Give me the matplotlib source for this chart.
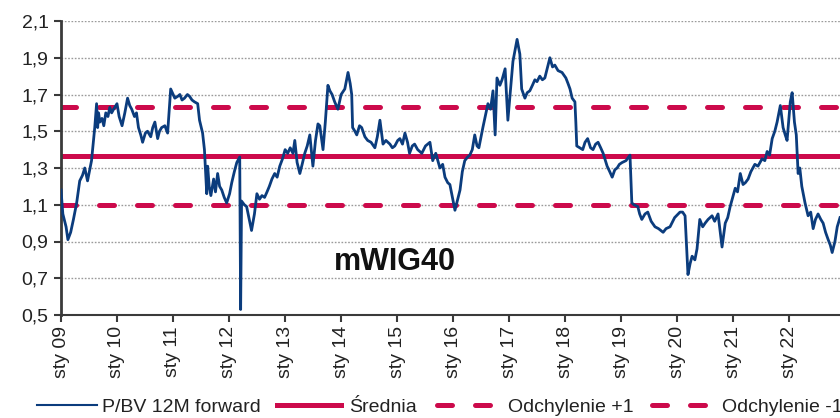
import pandas as pd
import matplotlib
matplotlib.use("Agg")
import matplotlib.pyplot as plt
from matplotlib.lines import Line2D
from matplotlib.ticker import FuncFormatter

plt.rcParams['font.family'] = ['Liberation Sans', 'DejaVu Sans']

# P/BV 12M forward, mWIG40, one line per year
dates = [
    "2009-01-01", "2009-01-13", "2009-02-03", "2009-02-15", "2009-03-05", "2009-03-23", "2009-04-13", "2009-05-03", "2009-05-21", "2009-06-05", "2009-06-23", "2009-07-19", "2009-08-09", "2009-08-21", "2009-08-28", "2009-09-03", "2009-09-11", "2009-09-25", "2009-10-07", "2009-10-20", "2009-11-03", "2009-11-15", "2009-11-27", "2009-12-10",
    "2010-01-01", "2010-01-15", "2010-02-03", "2010-02-21", "2010-03-11", "2010-03-25", "2010-04-07", "2010-04-25", "2010-05-08", "2010-05-21", "2010-06-05", "2010-06-17", "2010-07-05", "2010-07-19", "2010-08-09", "2010-08-22", "2010-09-05", "2010-09-23", "2010-10-05", "2010-10-19", "2010-11-09", "2010-11-27", "2010-12-17",
    "2011-01-13", "2011-02-01", "2011-02-15", "2011-03-01", "2011-03-17", "2011-04-05", "2011-04-19", "2011-05-05", "2011-05-21", "2011-06-11", "2011-06-23", "2011-07-13", "2011-07-25", "2011-08-09", "2011-08-15", "2011-08-25", "2011-09-05", "2011-09-23", "2011-10-05", "2011-10-19", "2011-11-01", "2011-11-15", "2011-12-01", "2011-12-17",
    "2012-01-05", "2012-01-19", "2012-02-05", "2012-02-21", "2012-03-11", "2012-03-17", "2012-03-23", "2012-04-10", "2012-04-25", "2012-05-27", "2012-06-15", "2012-07-01", "2012-07-18", "2012-08-03", "2012-08-20", "2012-09-05", "2012-09-20", "2012-10-07", "2012-10-25", "2012-11-10", "2012-11-27", "2012-12-15",
    "2013-01-01", "2013-01-18", "2013-02-03", "2013-02-21", "2013-03-05", "2013-03-20", "2013-04-07", "2013-04-22", "2013-05-09", "2013-05-25", "2013-06-11", "2013-07-01", "2013-07-18", "2013-08-03", "2013-08-15", "2013-09-05", "2013-09-20", "2013-10-07", "2013-10-20", "2013-11-03", "2013-11-20", "2013-12-11",
    "2014-01-01", "2014-01-25", "2014-02-15", "2014-03-01", "2014-03-11", "2014-03-17", "2014-04-01", "2014-04-13", "2014-05-01", "2014-05-15", "2014-06-05", "2014-06-23", "2014-07-15", "2014-08-09", "2014-08-25", "2014-09-11", "2014-10-01", "2014-10-20", "2014-11-15", "2014-12-01", "2014-12-17",
    "2015-01-05", "2015-01-19", "2015-02-05", "2015-02-21", "2015-03-10", "2015-03-23", "2015-04-10", "2015-04-25", "2015-05-15", "2015-06-11", "2015-07-05", "2015-08-03", "2015-08-21", "2015-09-10", "2015-10-07", "2015-10-25", "2015-11-09", "2015-11-27", "2015-12-11",
    "2016-01-13", "2016-01-28", "2016-02-15", "2016-03-01", "2016-03-17", "2016-04-05", "2016-04-19", "2016-05-05", "2016-05-21", "2016-06-05", "2016-06-17", "2016-07-13", "2016-07-28", "2016-08-15", "2016-09-01", "2016-09-17", "2016-10-01", "2016-10-13", "2016-11-01", "2016-11-15", "2016-12-05", "2016-12-23",
    "2017-01-19", "2017-01-25", "2017-02-21", "2017-03-11", "2017-03-23", "2017-04-13", "2017-04-28", "2017-05-15", "2017-06-01", "2017-06-17", "2017-07-01", "2017-07-19", "2017-08-05", "2017-08-21", "2017-09-23", "2017-10-10", "2017-10-25", "2017-11-15", "2017-12-11",
    "2018-01-05", "2018-01-19", "2018-02-01", "2018-02-15", "2018-03-05", "2018-03-11", "2018-03-17", "2018-04-05", "2018-04-25", "2018-05-10", "2018-05-27", "2018-06-15", "2018-07-01", "2018-07-18", "2018-08-03", "2018-08-20", "2018-09-05", "2018-09-20", "2018-10-01", "2018-10-18", "2018-11-03", "2018-11-20", "2018-12-05", "2018-12-20",
    "2019-01-07", "2019-02-01", "2019-02-27", "2019-03-11", "2019-03-25", "2019-04-19", "2019-05-01", "2019-05-15", "2019-06-05", "2019-06-23", "2019-07-15", "2019-08-09", "2019-09-01", "2019-10-01", "2019-10-20", "2019-11-15", "2019-12-15",
    "2020-01-19", "2020-02-05", "2020-02-21", "2020-03-11", "2020-03-25", "2020-04-07", "2020-04-25", "2020-05-09", "2020-05-27", "2020-06-15", "2020-07-01", "2020-07-20", "2020-08-15", "2020-09-01", "2020-09-23", "2020-10-19", "2020-11-09", "2020-11-25", "2020-12-11",
    "2021-01-13", "2021-01-28", "2021-02-15", "2021-03-05", "2021-03-20", "2021-04-07", "2021-04-25", "2021-05-21", "2021-06-10", "2021-07-07", "2021-07-25", "2021-08-09", "2021-08-25", "2021-09-11", "2021-09-28", "2021-10-13", "2021-11-03", "2021-11-21", "2021-12-05", "2021-12-17",
    "2022-01-07", "2022-01-19", "2022-02-03", "2022-02-15", "2022-02-27", "2022-03-10", "2022-03-23", "2022-04-13", "2022-05-03", "2022-05-20", "2022-06-05", "2022-06-20", "2022-07-07", "2022-07-25", "2022-08-09", "2022-08-25", "2022-09-11", "2022-09-25", "2022-10-07", "2022-10-25", "2022-11-09", "2022-11-27",
]
pbv = [
    1.18, 1.05, 0.98, 0.91, 0.95, 1.02, 1.11, 1.23, 1.26, 1.30, 1.23, 1.34, 1.52, 1.65, 1.52, 1.60, 1.55, 1.57, 1.53, 1.60, 1.58, 1.63, 1.60, 1.62,
    1.65, 1.58, 1.53, 1.60, 1.68, 1.64, 1.62, 1.58, 1.60, 1.52, 1.48, 1.44, 1.49, 1.50, 1.47, 1.52, 1.55, 1.46, 1.50, 1.52, 1.53, 1.49, 1.73,
    1.68, 1.69, 1.70, 1.67, 1.68, 1.70, 1.69, 1.67, 1.66, 1.65, 1.56, 1.49, 1.40, 1.16, 1.31, 1.20, 1.15, 1.24, 1.17, 1.27, 1.20, 1.18, 1.14, 1.11,
    1.16, 1.22, 1.28, 1.33, 1.36, 0.53, 1.12, 1.10, 1.09, 0.96, 1.05, 1.16, 1.13, 1.15, 1.14, 1.17, 1.20, 1.24, 1.27, 1.25, 1.31, 1.35,
    1.40, 1.38, 1.41, 1.38, 1.45, 1.33, 1.27, 1.32, 1.38, 1.42, 1.48, 1.31, 1.45, 1.54, 1.53, 1.40, 1.55, 1.75, 1.72, 1.70, 1.66, 1.62,
    1.70, 1.73, 1.82, 1.76, 1.70, 1.52, 1.50, 1.48, 1.53, 1.52, 1.47, 1.45, 1.44, 1.41, 1.47, 1.56, 1.43, 1.45, 1.43, 1.41, 1.42,
    1.45, 1.46, 1.43, 1.49, 1.44, 1.38, 1.42, 1.43, 1.40, 1.38, 1.42, 1.44, 1.34, 1.38, 1.30, 1.32, 1.25, 1.22, 1.21,
    1.07, 1.12, 1.18, 1.28, 1.34, 1.36, 1.37, 1.40, 1.48, 1.42, 1.41, 1.52, 1.58, 1.65, 1.62, 1.72, 1.48, 1.79, 1.75, 1.78, 1.84, 1.56,
    1.82, 1.88, 2.00, 1.92, 1.73, 1.68, 1.71, 1.72, 1.75, 1.78, 1.77, 1.80, 1.78, 1.79, 1.90, 1.85, 1.86, 1.83, 1.82,
    1.79, 1.76, 1.73, 1.68, 1.66, 1.55, 1.42, 1.41, 1.40, 1.44, 1.46, 1.41, 1.40, 1.43, 1.44, 1.41, 1.38, 1.34, 1.31, 1.28, 1.25, 1.29, 1.30, 1.32,
    1.33, 1.34, 1.37, 1.11, 1.10, 1.09, 1.05, 1.02, 1.05, 1.06, 1.01, 0.98, 0.97, 0.95, 0.97, 0.98, 1.03,
    1.06, 1.06, 1.04, 0.72, 0.78, 0.82, 0.80, 0.86, 1.02, 0.98, 1.00, 1.02, 1.04, 1.01, 1.05, 0.87, 1.00, 1.03, 1.09,
    1.19, 1.17, 1.27, 1.21, 1.22, 1.24, 1.28, 1.32, 1.31, 1.35, 1.34, 1.39, 1.37, 1.46, 1.50, 1.55, 1.64, 1.52, 1.48, 1.45,
    1.66, 1.71, 1.55, 1.48, 1.27, 1.30, 1.20, 1.11, 1.04, 1.06, 0.97, 1.02, 1.05, 1.02, 1.00, 0.95, 0.91, 0.88, 0.84, 0.90, 0.98, 1.03,
]
assert len(dates) == len(pbv)

mean_val = 1.366
std_val = 0.267
y_ticks = [0.5, 0.7, 0.9, 1.1, 1.3, 1.5, 1.7, 1.9, 2.1]
tick_years = list(range(2009, 2023))
tick_labels = ["sty %02d" % (y % 100) for y in tick_years]
legend_labels = ["P/BV 12M forward", "Średnia", "Odchylenie +1", "Odchylenie -1"]

blue = "#0B3C7D"
red = "#CC0A4B"

x = pd.to_datetime(dates)

fig = plt.figure(figsize=(8.4, 4.18), dpi=100)
ax = fig.add_axes([61 / 840, 1 - 315 / 418, 1 - 61 / 840, 294 / 418])

x0 = pd.Timestamp("2009-01-01")
x1 = pd.Timestamp("2022-11-27")
dash = (3.0, 4.6)

ax.plot([x0, x1], [mean_val, mean_val], color=red, lw=3.6, solid_capstyle="butt", zorder=2)
ax.plot([x0, x1], [mean_val + std_val] * 2, color=red, lw=3.6, dashes=dash,
        dash_capstyle="round", zorder=2)
ax.plot([x0, x1], [mean_val - std_val] * 2, color=red, lw=3.6, dashes=dash,
        dash_capstyle="round", zorder=2)
ax.plot(x, pbv, color=blue, lw=2.0, zorder=3)

ax.set_xlim(x0, x1)
ax.set_ylim(0.5, 2.1)
ax.set_yticks(y_ticks)
ax.yaxis.set_major_formatter(FuncFormatter(lambda v, p: f"{v:.1f}".replace(".", ",")))
ax.set_xticks([pd.Timestamp(f"{y}-01-01") for y in tick_years])
ax.set_xticklabels(tick_labels, rotation=90)
ax.grid(axis="y", linestyle=(0, (1.2, 1.2)), color="#9a9a9a", lw=1.0, zorder=0)

for s in ["top", "right"]:
    ax.spines[s].set_visible(False)
ax.spines["left"].set_color("#3a3a3a")
ax.spines["left"].set_linewidth(2.0)
ax.spines["bottom"].set_color("#3a3a3a")
ax.spines["bottom"].set_linewidth(1.5)
ax.tick_params(axis="y", length=5, width=1.5, color="#3a3a3a", labelsize=14,
               labelcolor="#222222", pad=4)
ax.tick_params(axis="x", length=5, width=1.5, color="#3a3a3a", labelsize=14,
               labelcolor="#222222", pad=3)

ax.text(0.429, 0.18, "mWIG40", transform=ax.transAxes, ha="center", va="center",
        fontsize=22, fontweight="bold", color="#111111")

handles = [
    Line2D([], [], color=blue, lw=1.5),
    Line2D([], [], color=red, lw=3.6),
    Line2D([], [], color=red, lw=3.6, dashes=dash, dash_capstyle="round"),
    Line2D([], [], color=red, lw=3.6, dashes=dash, dash_capstyle="round"),
]
# one legend per entry so each sits where it does in the original
legend_x = [35, 275, 435, 650]
handle_len = [3.1, 3.3, 3.0, 3.0]
text_pad = [0.25, 0.4, 0.65, 0.6]
for h, lab, lx, hl, tp in zip(handles, legend_labels, legend_x, handle_len, text_pad):
    fig.legend([h], [lab], loc="lower left", bbox_to_anchor=(lx / 840, 0.0),
               frameon=False, fontsize=14, handlelength=hl, handletextpad=tp,
               borderpad=0.1, borderaxespad=0.0, labelcolor="#222222")

fig.savefig("out.png", dpi=100)
